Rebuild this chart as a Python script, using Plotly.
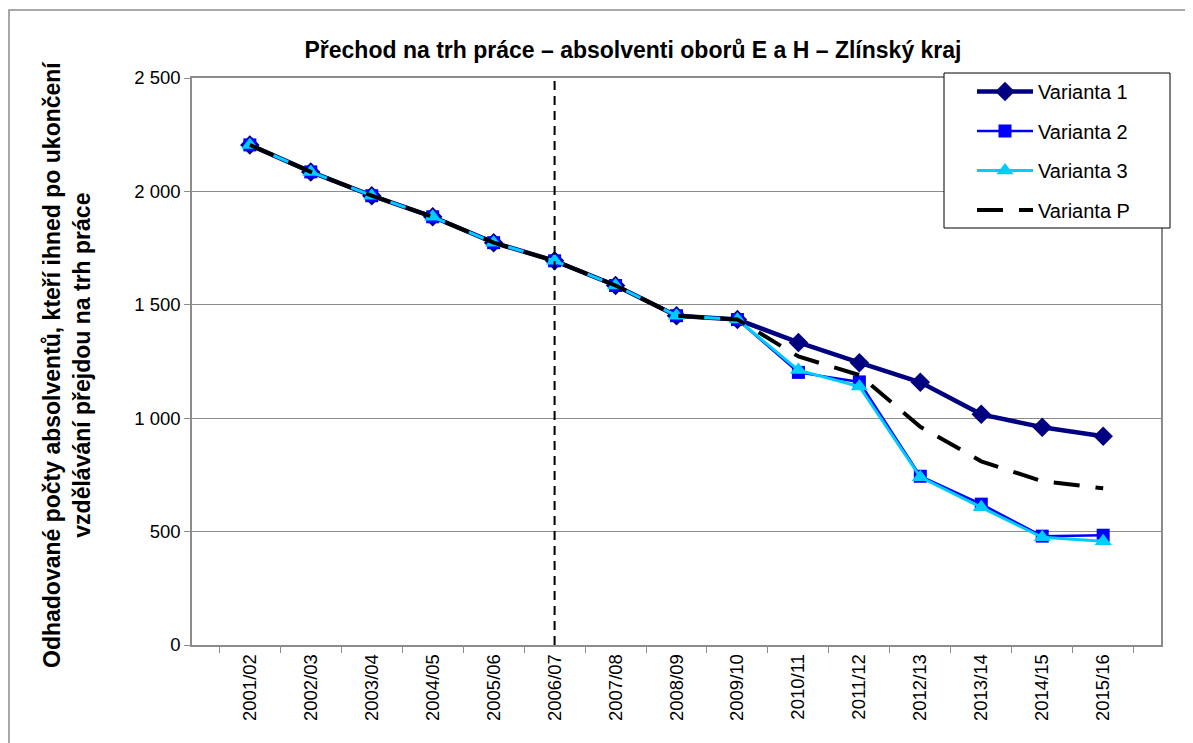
import plotly.graph_objects as go

years = ["2001/02", "2002/03", "2003/04", "2004/05", "2005/06", "2006/07", "2007/08",
         "2008/09", "2009/10", "2010/11", "2011/12", "2012/13", "2013/14", "2014/15", "2015/16"]
var1 = [2205, 2086, 1981, 1888, 1774, 1694, 1585, 1452, 1435, 1334, 1245, 1158, 1017, 960, 920]
var2 = [2205, 2086, 1981, 1888, 1774, 1694, 1585, 1452, 1435, 1202, 1160, 744, 621, 480, 484]
var3 = [2205, 2086, 1981, 1888, 1774, 1694, 1585, 1452, 1435, 1212, 1140, 740, 607, 475, 458]
varP = [2205, 2086, 1981, 1888, 1774, 1694, 1585, 1452, 1435, 1272, 1190, 962, 810, 722, 691]
names = ["Varianta 1", "Varianta 2", "Varianta 3", "Varianta P"]
split_year = "2006/07"

font_family = "Liberation Sans, Arial, sans-serif"

W, H = 1185, 735
L, R, T, B = 184, 32, 70, 98
PW = W - L - R
PH = H - T - B


def px_x(p):  # page pixel x -> paper
    return (p - 8 - L) / PW


def px_y(p):  # page pixel y -> paper
    return (T + PH - (p - 8)) / PH


fig = go.Figure()
fig.add_trace(go.Scatter(x=years, y=var1, name=names[0], legendgroup="g1", mode="lines+markers",
                         line=dict(color="#000080", width=4.5),
                         marker=dict(symbol="diamond", size=15, color="#000080")))
fig.add_trace(go.Scatter(x=years, y=var2, name=names[1], legendgroup="g2", mode="lines+markers",
                         line=dict(color="#0000FF", width=2.5),
                         marker=dict(symbol="square", size=13, color="#0000FF")))
fig.add_trace(go.Scatter(x=years, y=var3, name=names[2], legendgroup="g3", mode="lines+markers",
                         line=dict(color="#00CCFF", width=3),
                         marker=dict(symbol="triangle-up", size=15, color="#00CCFF")))
fig.add_trace(go.Scatter(x=years, y=varP, name=names[3], legendgroup="g4", mode="lines",
                         line=dict(color="#000000", width=4, dash="26px,16px")))

# vertical dashed separator
fig.add_shape(type="line", xref="x", yref="paper", x0=split_year, x1=split_year, y0=0, y1=1,
              line=dict(color="#000000", width=2, dash="9px,6px"))
# outer chart border
fig.add_shape(type="rect", xref="paper", yref="paper",
              x0=px_x(9), x1=2, y0=-1, y1=px_y(10),
              line=dict(color="#8c8c8c", width=1.5), layer="below")
# legend box
fig.add_shape(type="rect", xref="paper", yref="paper",
              x0=px_x(944), x1=px_x(1170), y0=px_y(228), y1=px_y(73),
              line=dict(color="#000000", width=1), fillcolor="white", layer="above")

fig.add_annotation(
    text="<b>Odhadované počty absolventů, kteří ihned po ukončení<br>vzdělávání přejdou na trh práce</b>",
    xref="paper", yref="paper", x=px_x(67), y=px_y(365), xanchor="center", yanchor="middle",
    textangle=-90, showarrow=False,
    font=dict(family=font_family, size=23, color="#000000"))

fig.update_layout(
    width=W, height=H,
    margin=dict(l=L, r=R, t=T, b=B),
    paper_bgcolor="white", plot_bgcolor="white",
    separators=", ",
    title=dict(text="<b>Přechod na trh práce – absolventi oborů E a H – Zlínský kraj</b>",
               x=625 / W, xanchor="center", y=1 - 42 / H, yanchor="middle",
               font=dict(family=font_family, size=23, color="#000000")),
    font=dict(family=font_family, size=18.5, color="#000000"),
    showlegend=True,
    legend=dict(x=px_x(972), y=px_y(72), xanchor="left", yanchor="top",
                bgcolor="rgba(0,0,0,0)", borderwidth=0,
                font=dict(family=font_family, size=20, color="#000000"),
                traceorder="grouped", tracegroupgap=10.5, itemwidth=56),
    xaxis=dict(type="category", tickangle=-90, tickson="boundaries", ticks="outside",
               ticklen=6, tickcolor="#8c8c8c", showline=True, linecolor="#8c8c8c",
               linewidth=1.5, mirror=True, showgrid=False,
               tickfont=dict(family=font_family, size=18.5, color="#000000")),
    yaxis=dict(range=[0, 2500], dtick=500, tickformat=",d", ticks="outside", ticklen=6,
               tickcolor="#8c8c8c", showline=True, linecolor="#8c8c8c", linewidth=1.5,
               mirror=True, showgrid=True, gridcolor="#8c8c8c", gridwidth=1,
               zeroline=False,
               tickfont=dict(family=font_family, size=18.5, color="#000000")),
)

fig.write_html("out.html")
